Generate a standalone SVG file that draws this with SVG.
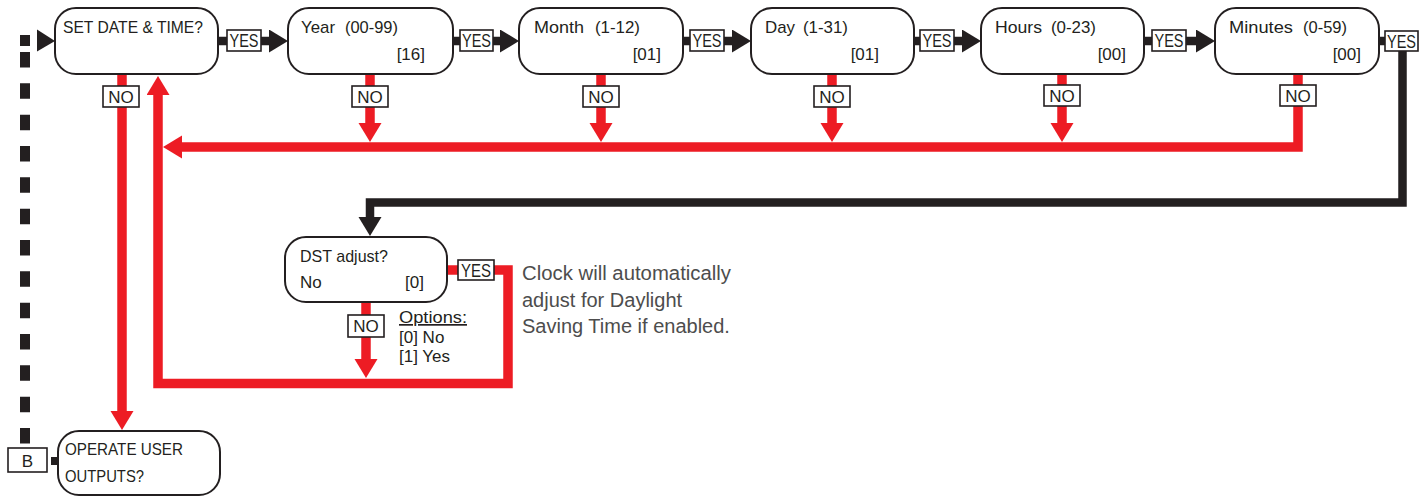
<svg xmlns="http://www.w3.org/2000/svg" width="1426" height="497" viewBox="0 0 1426 497">
<defs>
<style>
.box{fill:#fff;stroke:#231f20;stroke-width:2}
.t{font-family:"Liberation Sans",Arial,sans-serif;font-size:17px;fill:#231f20}
.lb{fill:#fff;stroke:#231f20;stroke-width:1.6}
.lt{font-family:"Liberation Sans",Arial,sans-serif;font-size:17px;fill:#231f20;text-anchor:middle}
.ys{font-size:17.5px}
.red{fill:none;stroke:#ed1c24;stroke-width:9.5;stroke-linejoin:miter}
.blk{fill:none;stroke:#231f20;stroke-width:8.5;stroke-linejoin:miter}
.note{font-family:"Liberation Sans",Arial,sans-serif;font-size:20px;fill:#4d4d4d}
</style>
<marker id="ar" markerUnits="userSpaceOnUse" markerWidth="22" markerHeight="24" refX="9" refY="11.5" orient="auto" viewBox="0 0 22 24"><path d="M0,0 L19,11.5 L0,23 z" fill="#ed1c24"/></marker>
<marker id="ab" markerUnits="userSpaceOnUse" markerWidth="22" markerHeight="24" refX="9" refY="11.5" orient="auto" viewBox="0 0 22 24"><path d="M0,0 L19,11.5 L0,23 z" fill="#231f20"/></marker>
</defs>
<rect width="1426" height="497" fill="#fff"/>

<g id="connectors">
<line x1="25" y1="52" x2="25" y2="443.5" stroke="#231f20" stroke-width="10" stroke-dasharray="15.5 15.83"/>
<rect x="20" y="35" width="10" height="11" fill="#231f20"/>
<polygon points="37,29.5 55,41 37,51.5" fill="#231f20"/>
<rect x="51" y="457" width="7" height="8" fill="#231f20"/>
<path class="blk" d="M218,41 H278" marker-end="url(#ab)"/>
<path class="blk" d="M453,41 H509" marker-end="url(#ab)"/>
<path class="blk" d="M683,41 H741" marker-end="url(#ab)"/>
<path class="blk" d="M914,41 H971" marker-end="url(#ab)"/>
<path class="blk" d="M1144,41 H1205" marker-end="url(#ab)"/>
<path class="blk" d="M1379,41 H1402.5 V202.5 H370 V226" marker-end="url(#ab)"/>
<path class="red" d="M122,74 V420" marker-end="url(#ar)"/>
<path class="red" d="M370,74 V132" marker-end="url(#ar)"/>
<path class="red" d="M601,74 V132" marker-end="url(#ar)"/>
<path class="red" d="M832,74 V132" marker-end="url(#ar)"/>
<path class="red" d="M1062,74 V132" marker-end="url(#ar)"/>
<path class="red" d="M1298,74 V147 H173" marker-end="url(#ar)"/>
<path class="red" d="M447,270 H508 V383.5 H158 V86" marker-end="url(#ar)"/>
<path class="red" d="M366,302 V368" marker-end="url(#ar)"/>
<rect class="lb" x="227" y="30" width="34" height="21"/><text class="lt ys" x="244" y="47" textLength="29" lengthAdjust="spacingAndGlyphs">YES</text>
<rect class="lb" x="460" y="30" width="33" height="21"/><text class="lt ys" x="476.5" y="47" textLength="29" lengthAdjust="spacingAndGlyphs">YES</text>
<rect class="lb" x="690" y="30" width="34" height="21"/><text class="lt ys" x="707" y="47" textLength="29" lengthAdjust="spacingAndGlyphs">YES</text>
<rect class="lb" x="920" y="30" width="34" height="21"/><text class="lt ys" x="937" y="47" textLength="29" lengthAdjust="spacingAndGlyphs">YES</text>
<rect class="lb" x="1152" y="30" width="34" height="21"/><text class="lt ys" x="1169" y="47" textLength="29" lengthAdjust="spacingAndGlyphs">YES</text>
<rect class="lb" x="1385" y="31" width="33" height="20"/><text class="lt ys" x="1401.5" y="47.5" textLength="29" lengthAdjust="spacingAndGlyphs">YES</text>
<rect class="lb" x="103" y="86" width="36" height="21"/><text class="lt" x="121" y="103">NO</text>
<rect class="lb" x="352" y="86" width="36" height="21"/><text class="lt" x="370" y="103">NO</text>
<rect class="lb" x="583" y="86" width="36" height="21"/><text class="lt" x="601" y="103">NO</text>
<rect class="lb" x="814" y="86" width="36" height="21"/><text class="lt" x="832" y="103">NO</text>
<rect class="lb" x="1044" y="85" width="36" height="21"/><text class="lt" x="1062" y="102">NO</text>
<rect class="lb" x="1280" y="85" width="36" height="21"/><text class="lt" x="1298" y="102">NO</text>
<rect class="lb" x="458" y="260" width="36" height="20"/><text class="lt ys" x="476" y="276.5" textLength="30" lengthAdjust="spacingAndGlyphs">YES</text>
<rect class="lb" x="348" y="315" width="36" height="22"/><text class="lt" x="366" y="332">NO</text>
</g>

<g id="set-date">
<rect class="box" x="55" y="8" width="163" height="66" rx="21"/>
<text class="t" x="63" y="33" textLength="140" lengthAdjust="spacingAndGlyphs">SET DATE &amp; TIME?</text>
</g>
<g id="year">
<rect class="box" x="288" y="8" width="165" height="66" rx="21"/>
<text class="t" x="301" y="33" textLength="34" lengthAdjust="spacingAndGlyphs">Year</text><text class="t" x="345" y="33" textLength="53" lengthAdjust="spacingAndGlyphs">(00-99)</text>
<text class="t" x="425" y="60" text-anchor="end">[16]</text>
</g>
<g id="month">
<rect class="box" x="519" y="8" width="164" height="66" rx="21"/>
<text class="t" x="534" y="33" textLength="50" lengthAdjust="spacingAndGlyphs">Month</text><text class="t" x="595" y="33" textLength="45" lengthAdjust="spacingAndGlyphs">(1-12)</text>
<text class="t" x="661" y="60" text-anchor="end">[01]</text>
</g>
<g id="day">
<rect class="box" x="751" y="8" width="163" height="66" rx="21"/>
<text class="t" x="765" y="33" textLength="30" lengthAdjust="spacingAndGlyphs">Day</text><text class="t" x="803" y="33" textLength="45" lengthAdjust="spacingAndGlyphs">(1-31)</text>
<text class="t" x="879" y="60" text-anchor="end">[01]</text>
</g>
<g id="hours">
<rect class="box" x="981" y="8" width="163" height="66" rx="21"/>
<text class="t" x="995" y="33" textLength="47" lengthAdjust="spacingAndGlyphs">Hours</text><text class="t" x="1051" y="33" textLength="45" lengthAdjust="spacingAndGlyphs">(0-23)</text>
<text class="t" x="1126" y="60" text-anchor="end">[00]</text>
</g>
<g id="minutes">
<rect class="box" x="1215" y="8" width="164" height="66" rx="21"/>
<text class="t" x="1229" y="33" textLength="64" lengthAdjust="spacingAndGlyphs">Minutes</text><text class="t" x="1303" y="33" textLength="44" lengthAdjust="spacingAndGlyphs">(0-59)</text>
<text class="t" x="1361" y="60" text-anchor="end">[00]</text>
</g>
<g id="dst">
<rect class="box" x="285" y="237" width="162" height="65" rx="21"/>
<text class="t" x="300" y="262" textLength="88" lengthAdjust="spacingAndGlyphs">DST adjust?</text>
<text class="t" x="300" y="288">No</text>
<text class="t" x="424" y="288" text-anchor="end">[0]</text>
</g>
<g id="dst-options">
<text class="t" x="399" y="323" text-decoration="underline" textLength="68" lengthAdjust="spacingAndGlyphs">Options:</text>
<text class="t" x="399" y="343">[0] No</text>
<text class="t" x="399" y="362">[1] Yes</text>
</g>
<g id="dst-note">
<text class="note" x="522" y="280" textLength="209" lengthAdjust="spacingAndGlyphs">Clock will automatically</text>
<text class="note" x="522" y="307">adjust for Daylight</text>
<text class="note" x="522" y="333">Saving Time if enabled.</text>
</g>
<g id="operate">
<rect class="box" x="58" y="431" width="162" height="64" rx="21"/>
<text class="t" x="65" y="455" textLength="118" lengthAdjust="spacingAndGlyphs">OPERATE USER</text>
<text class="t" x="65" y="482" textLength="79" lengthAdjust="spacingAndGlyphs">OUTPUTS?</text>
</g>
<g id="b-label">
<rect class="lb" x="8" y="448" width="39" height="24"/>
<text class="lt" x="27.5" y="467">B</text>
</g>
</svg>
